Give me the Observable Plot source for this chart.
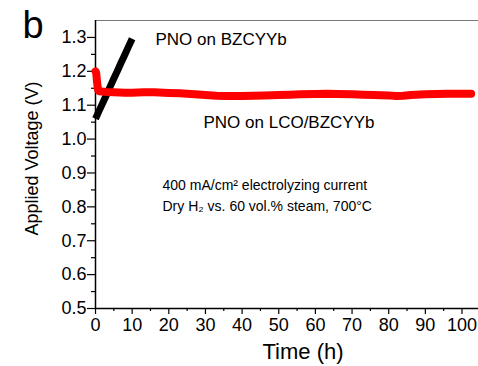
<!DOCTYPE html>
<html><head><meta charset="utf-8">
<script src="https://cdn.jsdelivr.net/npm/d3@7"></script>
<script src="https://cdn.jsdelivr.net/npm/@observablehq/plot@0.6"></script>
<style>
html,body{margin:0;padding:0;background:#fff;}
#chart{width:478px;height:366px;}
</style>
</head><body><div id="chart"></div>
<script>
// Series: PNO on LCO/BZCYYb (red)
const redTime = [0, 0.2, 0.4, 0.7, 1, 3, 5, 8, 10, 13, 16, 20, 23, 26, 30, 33, 36, 40, 43, 46, 50, 53, 56, 60, 63, 66, 70, 73, 76, 80, 82, 84, 86, 90, 93, 96, 100, 102.5];
const redVolt = [1.200, 1.195, 1.170, 1.145, 1.141, 1.139, 1.138, 1.137, 1.137, 1.138, 1.138, 1.136, 1.135, 1.133, 1.130, 1.128, 1.127, 1.127, 1.128, 1.129, 1.130, 1.131, 1.132, 1.133, 1.134, 1.133, 1.132, 1.131, 1.130, 1.129, 1.127, 1.128, 1.130, 1.132, 1.133, 1.134, 1.134, 1.134];
// Series: PNO on BZCYYb (black)
const blackTime = [0, 1, 2, 3, 4, 5, 6, 7, 8, 9, 10];
const blackVolt = [1.060, 1.084, 1.107, 1.131, 1.155, 1.179, 1.202, 1.226, 1.249, 1.273, 1.296];
// Ticks
const xTicks = [0, 10, 20, 30, 40, 50, 60, 70, 80, 90, 100];
const xMinor = [5, 15, 25, 35, 45, 55, 65, 75, 85, 95];
const yTicks = [0.5, 0.6, 0.7, 0.8, 0.9, 1.0, 1.1, 1.2, 1.3];
const yMinor = [0.55, 0.65, 0.75, 0.85, 0.95, 1.05, 1.15, 1.25];
const xDomain = [0, 104.5];
const yDomain = [0.5, 1.35];

const red = redTime.map((t, i) => ({t, v: redVolt[i]}));
const black = blackTime.map((t, i) => ({t, v: blackVolt[i]}));

const font = "'Liberation Sans', Arial, sans-serif";

const plot = Plot.plot({
  width: 478,
  height: 366,
  marginLeft: 95,
  marginRight: 0,
  marginTop: 20,
  marginBottom: 58,
  style: {fontFamily: font, background: "#fff", overflow: "visible"},
  x: {domain: xDomain},
  y: {domain: yDomain},
  marks: [
    Plot.ruleY([yDomain[1]], {stroke: "#777", strokeWidth: 1.2}),
    Plot.axisX({ticks: xTicks, tickSize: 6, tickPadding: 4, fontSize: 18, label: null, stroke: "#000", strokeWidth: 1.2, color: "#000"}),
    Plot.axisX({ticks: xMinor, tickSize: 3, tickFormat: () => "", label: null, stroke: "#000", strokeWidth: 1.2}),
    Plot.axisY({ticks: yTicks, tickSize: 8, tickPadding: 1, fontSize: 18, tickFormat: d3.format(".1f"), label: null, stroke: "#000", strokeWidth: 1.2, color: "#000"}),
    Plot.axisY({ticks: yMinor, tickSize: 4, tickFormat: () => "", label: null, stroke: "#000", strokeWidth: 1.2}),
    Plot.ruleX([xDomain[0]], {stroke: "#000", strokeWidth: 1.5}),
    Plot.ruleY([yDomain[0]], {stroke: "#000", strokeWidth: 1.5}),
    Plot.line(black, {x: "t", y: "v", stroke: "#000", strokeWidth: 7, strokeLinecap: "butt"}),
    Plot.line(red, {x: "t", y: "v", stroke: "#ff0000", strokeWidth: 8, strokeLinecap: "round", strokeLinejoin: "round", curve: "linear"}),
    Plot.text(["b"], {frameAnchor: "top-left", dx: -73, dy: 17, fontSize: 38, lineAnchor: "bottom", textAnchor: "start", fill: "#000"}),
    Plot.text(["PNO on BZCYYb"], {frameAnchor: "top-left", dx: 60, dy: 24, fontSize: 17, lineAnchor: "bottom", textAnchor: "start", fill: "#000"}),
    Plot.text(["PNO on LCO/BZCYYb"], {frameAnchor: "top-left", dx: 108, dy: 107, fontSize: 17, lineAnchor: "bottom", textAnchor: "start", fill: "#000"}),
    Plot.text(["400 mA/cm² electrolyzing current"], {frameAnchor: "top-left", dx: 67, dy: 169, fontSize: 14, lineAnchor: "bottom", textAnchor: "start", fill: "#000"}),
    Plot.text(["Dry H₂ vs. 60 vol.% steam, 700°C"], {frameAnchor: "top-left", dx: 67, dy: 190, fontSize: 14, lineAnchor: "bottom", textAnchor: "start", fill: "#000"}),
    Plot.text(["Applied Voltage (V)"], {frameAnchor: "left", dx: -58, dy: -6, rotate: -90, fontSize: 18, lineAnchor: "bottom", textAnchor: "middle", fill: "#000"}),
    Plot.text(["Time (h)"], {frameAnchor: "bottom", dx: 16, dy: 50, fontSize: 22, lineAnchor: "bottom", textAnchor: "middle", fill: "#000"})
  ]
});
document.getElementById("chart").appendChild(plot);
</script>
</body></html>
